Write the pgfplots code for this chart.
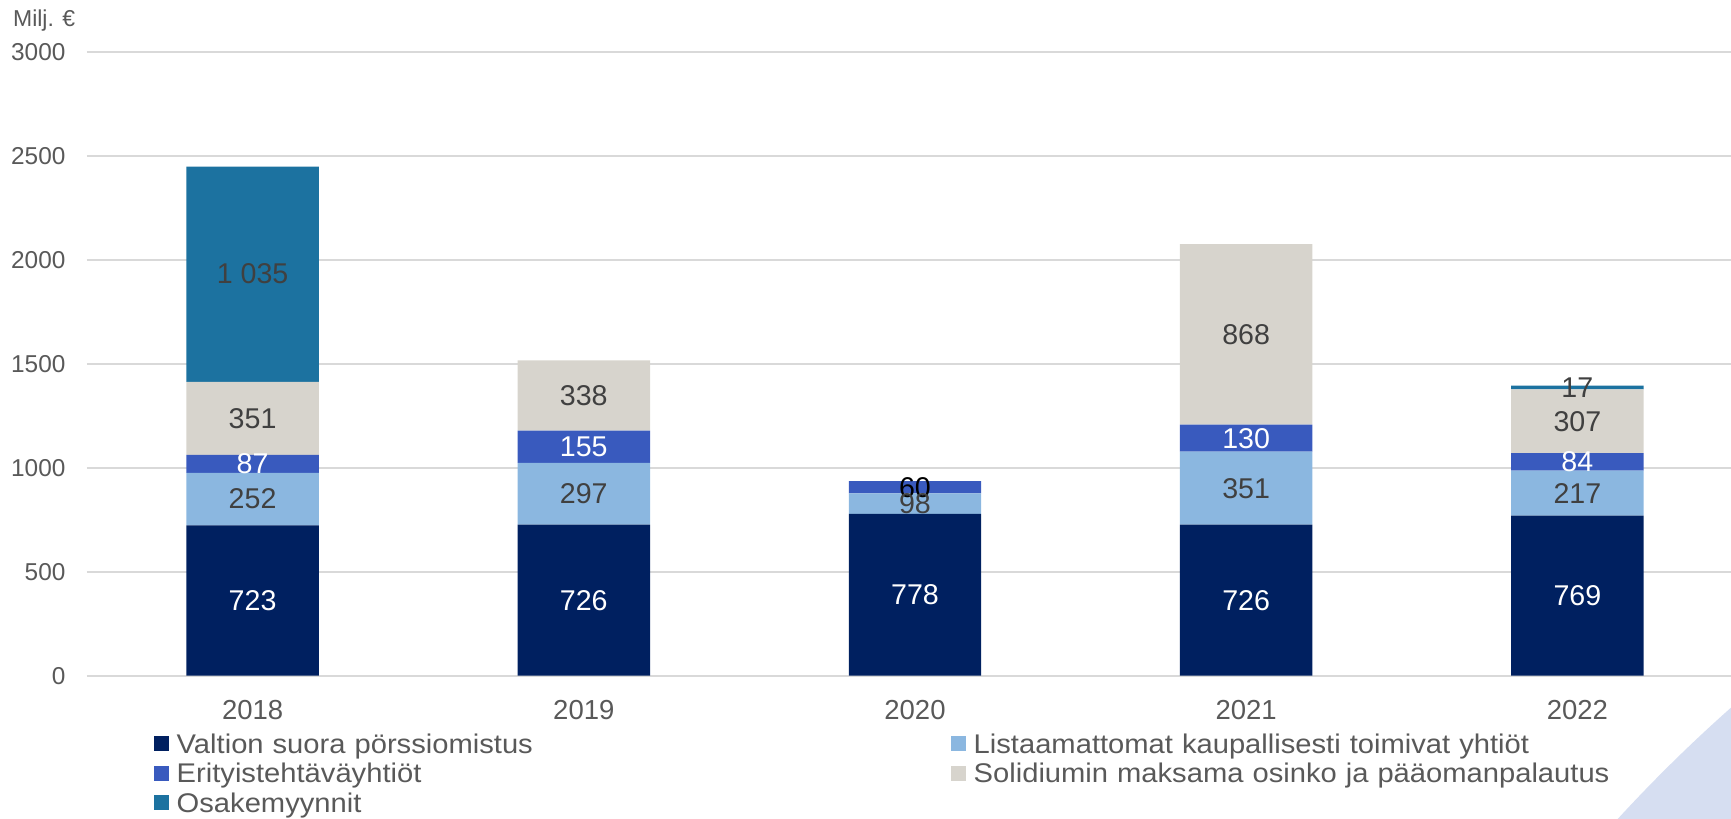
\documentclass[border=0pt]{standalone}
\usepackage{pgfplots}
\pgfplotsset{compat=1.18}
\usepackage{pgfplotstable}
\usepackage{fontspec}
\setmainfont{Liberation Sans}
\newfontfamily\legendfont{Liberation Sans}[FakeStretch=1.08]
\definecolor{cNavy}{RGB}{0,32,96}
\definecolor{cLight}{RGB}{139,183,224}
\definecolor{cMed}{RGB}{57,90,190}
\definecolor{cGray}{RGB}{215,212,205}
\definecolor{cTeal}{RGB}{28,114,160}
\definecolor{cCircle}{RGB}{214,222,241}
\definecolor{cGrid}{RGB}{217,217,217}
\definecolor{cTick}{RGB}{89,89,89}
\definecolor{cLab}{RGB}{64,64,64}

\pgfplotstableread{
x v
0 723
1 726
2 778
3 726
4 769
}\tNavy
\pgfplotstableread{
x v
0 252
1 297
2 98
3 351
4 217
}\tLight
\pgfplotstableread{
x v
0 87
1 155
2 60
3 130
4 84
}\tMed
\pgfplotstableread{
x v
0 351
1 338
2 0
3 868
4 307
}\tGray
\pgfplotstableread{
x v
0 1035
1 0
2 0
3 0
4 17
}\tTeal

\pgfplotsset{
  sqlegend/.style={legend image code/.code={%
    \fill[#1] (0pt,0.9pt) rectangle (7.5pt,8.4pt);
    \path (11.35pt,0pt);}},
}

\begin{document}
\begin{tikzpicture}
\useasboundingbox (-43.5pt,-71.65pt) rectangle (822pt,337.85pt);
\fill[cCircle] (1333pt,-592.65pt) circle (770.5pt);
\begin{axis}[
  scale only axis,
  width=822pt, height=312pt,
  anchor=south west,
  xmin=-0.5, xmax=4.4638, ymin=0, ymax=3000,
  ybar stacked, bar width=0.4,
  xtick={0,1,2,3,4},
  xticklabels={2018,2019,2020,2021,2022},
  ytick={0,500,1000,1500,2000,2500,3000},
  ymajorgrids,
  grid style={color=cGrid, line width=0.9pt},
  axis line style={draw=none},
  major tick length=0pt,
  scaled y ticks=false,
  /pgf/number format/assume math mode=true,
  xticklabel style={text=cTick, font=\fontsize{13.75}{16}\selectfont, anchor=base, inner sep=0pt, yshift=-21.8pt},
  yticklabel style={text=cTick, font=\fontsize{12.2}{14}\selectfont, anchor=east, inner sep=0pt, xshift=-10.6pt, /pgf/number format/1000 sep={}},
  point meta=explicit,
  nodes near coords={\pgfmathfloatifflags{\pgfplotspointmeta}{0}{}{\pgfmathprintnumber[1000 sep={\ }]{\pgfplotspointmeta}}},
  every node near coord/.append style={anchor=center, font=\fontsize{14.3}{16}\selectfont},
  legend columns=2,
  legend cell align=left,
  legend style={
    at={(axis description cs:0.04075,-0.0939)}, anchor=north west,
    draw=none, fill=none, inner sep=0pt, outer sep=0pt,
    column sep=0pt, row sep=2.75pt,
    font=\legendfont\fontsize{13.5}{15}\selectfont, text=cTick,
    nodes={inner sep=0pt, anchor=base west, text width=387.15pt, text height=9.5pt, text depth=2.5pt, align=left},
  },
]
\addplot[fill=cNavy, draw=none, sqlegend=cNavy, every node near coord/.append style={text=white}] table[x=x, y=v, meta=v] {\tNavy};
\addplot[fill=cLight, draw=none, sqlegend=cLight, every node near coord/.append style={text=cLab}] table[x=x, y=v, meta=v] {\tLight};
\addplot[fill=cMed, draw=none, sqlegend=cMed, every node near coord/.append style={text=white},
  nodes near coords={\pgfmathfloattoint{\pgfplotspointmeta}\ifnum\pgfmathresult=60 \color{black}\fi\pgfmathprintnumber{\pgfplotspointmeta}}] table[x=x, y=v, meta=v] {\tMed};
\addplot[fill=cGray, draw=none, sqlegend=cGray, every node near coord/.append style={text=cLab}] table[x=x, y=v, meta=v] {\tGray};
\addplot[fill=cTeal, draw=none, sqlegend=cTeal, every node near coord/.append style={text=cLab}] table[x=x, y=v, meta=v] {\tTeal};
\legend{Valtion suora pörssiomistus, Listaamattomat kaupallisesti toimivat yhtiöt, Erityistehtäväyhtiöt, Solidiumin maksama osinko ja pääomanpalautus, Osakemyynnit}
\end{axis}
\node[anchor=base west, inner sep=0pt, text=cTick, font=\fontsize{11.5}{14}\selectfont] at (-37.15pt,324.5pt) {Milj. €};
\end{tikzpicture}
\end{document}
